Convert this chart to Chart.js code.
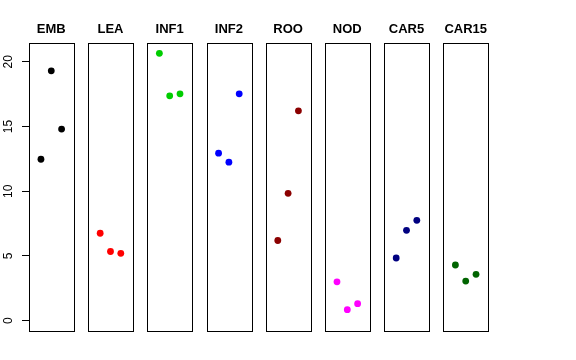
<!DOCTYPE html>
<html>
<head>
<meta charset="utf-8">
<script src="https://cdn.jsdelivr.net/npm/chart.js@4/dist/chart.umd.min.js"></script>
<style>
html,body{margin:0;padding:0;background:#fff;}
canvas{display:block;}
</style>
</head>
<body>
<canvas id="c" width="576" height="360"></canvas>
<script>
const categories = ["EMB","LEA","INF1","INF2","ROO","NOD","CAR5","CAR15"];
const colors = ["#000000","#FF0000","#00CD00","#0000FF","#8B0000","#FF00FF","#000080","#006400"];
const EMB = [12.47, 19.3, 14.8];
const LEA = [6.75, 5.34, 5.2];
const INF1 = [20.65, 17.37, 17.52];
const INF2 = [12.94, 12.24, 17.52];
const ROO = [6.19, 9.84, 16.21];
const NOD = [3.0, 0.85, 1.31];
const CAR5 = [4.84, 6.98, 7.75];
const CAR15 = [4.30, 3.06, 3.58];
const seriesValues = [EMB, LEA, INF1, INF2, ROO, NOD, CAR5, CAR15];
const yTickLabels = [0, 5, 10, 15, 20];

const SPACING = 5.74;   // panel offset in x units
const PAD = 0.16;       // panel margin in x units

const datasets = seriesValues.map((vals, p) => ({
  label: categories[p],
  data: vals.map((v, i) => ({x: p * SPACING + i + 1, y: v})),
  backgroundColor: colors[p],
  borderColor: colors[p],
  pointRadius: 3.4,
  pointBorderWidth: 0,
  showLine: false
}));

const panelPlugin = {
  id: 'panels',
  afterDatasetsDraw(chart) {
    const ctx = chart.ctx;
    const xs = chart.scales.x, ys = chart.scales.y;
    ctx.save();
    ctx.strokeStyle = '#000';
    ctx.lineWidth = 1;
    const top = ys.getPixelForValue(ys.max), bot = ys.getPixelForValue(ys.min);
    categories.forEach((name, p) => {
      const l = xs.getPixelForValue(p * SPACING - PAD);
      const r = xs.getPixelForValue(p * SPACING + 4 + PAD);
      ctx.strokeRect(Math.round(l) + 0.5, Math.round(top) + 0.5, Math.round(r - l), Math.round(bot - top));
      ctx.fillStyle = '#000';
      ctx.font = 'bold 13px "Liberation Sans", Arial, sans-serif';
      ctx.textAlign = 'center';
      ctx.textBaseline = 'middle';
      ctx.fillText(name, (l + r) / 2, 29.5);
    });
    ctx.restore();
  }
};

new Chart(document.getElementById('c'), {
  type: 'scatter',
  data: { datasets },
  options: {
    responsive: false,
    animation: false,
    devicePixelRatio: 1,
    layout: { padding: { left: 0, right: 88, top: 43, bottom: 29 } },
    plugins: { legend: { display: false }, tooltip: { enabled: false } },
    scales: {
      x: {
        type: 'linear',
        min: -PAD,
        max: 7 * SPACING + 4 + PAD,
        display: false
      },
      y: {
        type: 'linear',
        min: -0.8,
        max: 21.45,
        afterFit(scale) { scale.width = 29; },
        afterBuildTicks(scale) { scale.ticks = yTickLabels.map(v => ({value: v})); },
        border: { display: false },
        grid: { drawOnChartArea: false, drawTicks: true, tickLength: 7, color: '#000', lineWidth: 1 },
        ticks: {
          color: '#000',
          font: { family: '"Liberation Sans", Arial, sans-serif', size: 12 },
          minRotation: 90,
          maxRotation: 90,
          crossAlign: 'center',
          padding: 6.5
        }
      }
    }
  },
  plugins: [panelPlugin]
});
</script>
</body>
</html>
